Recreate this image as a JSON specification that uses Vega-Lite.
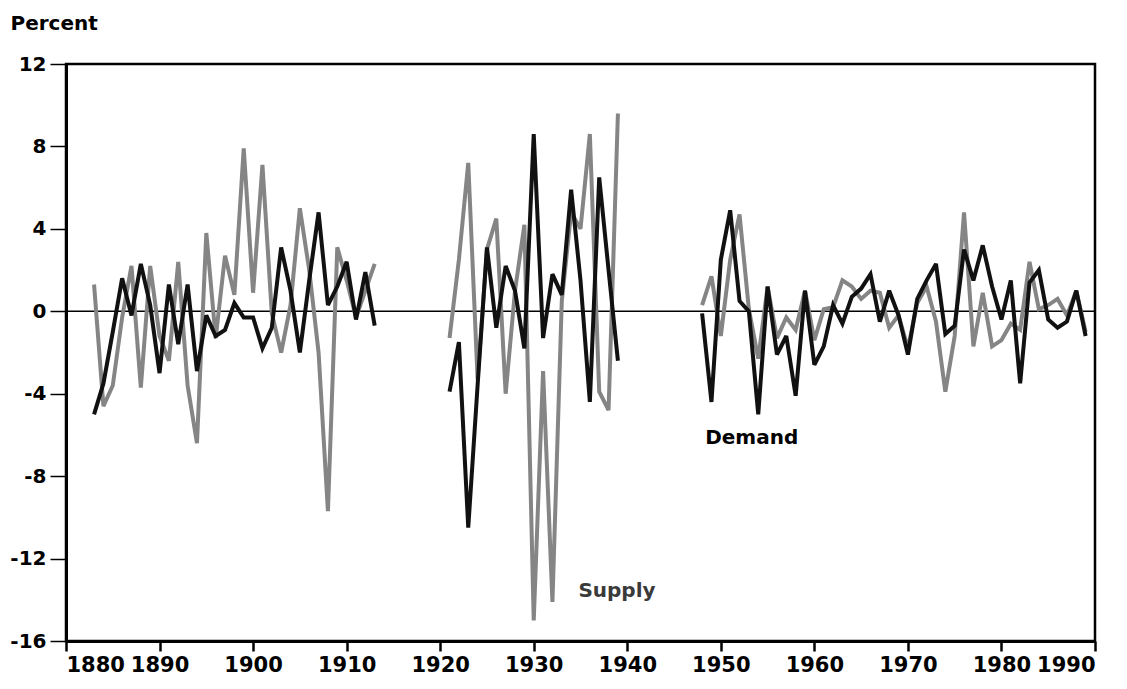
{
  "$schema": "https://vega.github.io/schema/vega-lite/v6.json",
  "autosize": "none",
  "width": 1029,
  "height": 577,
  "padding": {"left": 66, "top": 64, "right": 32, "bottom": 48},
  "background": "white",
  "view": {"stroke": "black", "strokeWidth": 2.5},
  "config": {
    "font": "DejaVu Sans",
    "axis": {"labelFont": "DejaVu Sans", "labelFontWeight": "bold", "labelColor": "black", "domainColor": "black", "tickColor": "black", "grid": false}
  },
  "datasets": {
    "series": [
      {"year": 1883, "period": "A", "Supply": 1.3, "Demand": -5.0},
      {"year": 1884, "period": "A", "Supply": -4.6, "Demand": -3.5},
      {"year": 1885, "period": "A", "Supply": -3.6, "Demand": -1.0},
      {"year": 1886, "period": "A", "Supply": -0.3, "Demand": 1.6},
      {"year": 1887, "period": "A", "Supply": 2.2, "Demand": -0.2},
      {"year": 1888, "period": "A", "Supply": -3.7, "Demand": 2.3},
      {"year": 1889, "period": "A", "Supply": 2.2, "Demand": 0.3},
      {"year": 1890, "period": "A", "Supply": -1.2, "Demand": -3.0},
      {"year": 1891, "period": "A", "Supply": -2.4, "Demand": 1.3},
      {"year": 1892, "period": "A", "Supply": 2.4, "Demand": -1.6},
      {"year": 1893, "period": "A", "Supply": -3.6, "Demand": 1.3},
      {"year": 1894, "period": "A", "Supply": -6.4, "Demand": -2.9},
      {"year": 1895, "period": "A", "Supply": 3.8, "Demand": -0.2},
      {"year": 1896, "period": "A", "Supply": -1.3, "Demand": -1.2},
      {"year": 1897, "period": "A", "Supply": 2.7, "Demand": -0.9},
      {"year": 1898, "period": "A", "Supply": 0.8, "Demand": 0.4},
      {"year": 1899, "period": "A", "Supply": 7.9, "Demand": -0.3},
      {"year": 1900, "period": "A", "Supply": 0.9, "Demand": -0.3},
      {"year": 1901, "period": "A", "Supply": 7.1, "Demand": -1.8},
      {"year": 1902, "period": "A", "Supply": -0.1, "Demand": -0.8},
      {"year": 1903, "period": "A", "Supply": -2.0, "Demand": 3.1},
      {"year": 1904, "period": "A", "Supply": 0.3, "Demand": 1.0},
      {"year": 1905, "period": "A", "Supply": 5.0, "Demand": -2.0},
      {"year": 1906, "period": "A", "Supply": 2.0, "Demand": 1.5},
      {"year": 1907, "period": "A", "Supply": -2.0, "Demand": 4.8},
      {"year": 1908, "period": "A", "Supply": -9.7, "Demand": 0.3},
      {"year": 1909, "period": "A", "Supply": 3.1, "Demand": 1.2},
      {"year": 1910, "period": "A", "Supply": 1.5, "Demand": 2.4},
      {"year": 1911, "period": "A", "Supply": -0.3, "Demand": -0.4},
      {"year": 1912, "period": "A", "Supply": 1.0, "Demand": 1.9},
      {"year": 1913, "period": "A", "Supply": 2.3, "Demand": -0.7},
      {"year": 1921, "period": "B", "Supply": -1.3, "Demand": -3.9},
      {"year": 1922, "period": "B", "Supply": 2.5, "Demand": -1.5},
      {"year": 1923, "period": "B", "Supply": 7.2, "Demand": -10.5},
      {"year": 1924, "period": "B", "Supply": -3.3, "Demand": -3.6},
      {"year": 1925, "period": "B", "Supply": 3.0, "Demand": 3.1},
      {"year": 1926, "period": "B", "Supply": 4.5, "Demand": -0.8},
      {"year": 1927, "period": "B", "Supply": -4.0, "Demand": 2.2},
      {"year": 1928, "period": "B", "Supply": 1.0, "Demand": 1.0},
      {"year": 1929, "period": "B", "Supply": 4.2, "Demand": -1.8},
      {"year": 1930, "period": "B", "Supply": -15.0, "Demand": 8.6},
      {"year": 1931, "period": "B", "Supply": -2.9, "Demand": -1.3},
      {"year": 1932, "period": "B", "Supply": -14.1, "Demand": 1.8},
      {"year": 1933, "period": "B", "Supply": 0.5, "Demand": 0.8},
      {"year": 1934, "period": "B", "Supply": 4.8, "Demand": 5.9},
      {"year": 1935, "period": "B", "Supply": 4.0, "Demand": 1.5},
      {"year": 1936, "period": "B", "Supply": 8.6, "Demand": -4.4},
      {"year": 1937, "period": "B", "Supply": -3.9, "Demand": 6.5},
      {"year": 1938, "period": "B", "Supply": -4.8, "Demand": 2.0},
      {"year": 1939, "period": "B", "Supply": 9.6, "Demand": -2.4},
      {"year": 1948, "period": "C", "Supply": 0.3, "Demand": -0.1},
      {"year": 1949, "period": "C", "Supply": 1.7, "Demand": -4.4},
      {"year": 1950, "period": "C", "Supply": -1.2, "Demand": 2.5},
      {"year": 1951, "period": "C", "Supply": 2.5, "Demand": 4.9},
      {"year": 1952, "period": "C", "Supply": 4.7, "Demand": 0.5},
      {"year": 1953, "period": "C", "Supply": 0.1, "Demand": 0.0},
      {"year": 1954, "period": "C", "Supply": -2.3, "Demand": -5.0},
      {"year": 1955, "period": "C", "Supply": 1.2, "Demand": 1.2},
      {"year": 1956, "period": "C", "Supply": -1.3, "Demand": -2.1},
      {"year": 1957, "period": "C", "Supply": -0.3, "Demand": -1.2},
      {"year": 1958, "period": "C", "Supply": -0.9, "Demand": -4.1},
      {"year": 1959, "period": "C", "Supply": 1.0, "Demand": 1.0},
      {"year": 1960, "period": "C", "Supply": -1.4, "Demand": -2.6},
      {"year": 1961, "period": "C", "Supply": 0.1, "Demand": -1.7},
      {"year": 1962, "period": "C", "Supply": 0.2, "Demand": 0.3},
      {"year": 1963, "period": "C", "Supply": 1.5, "Demand": -0.6},
      {"year": 1964, "period": "C", "Supply": 1.2, "Demand": 0.7},
      {"year": 1965, "period": "C", "Supply": 0.6, "Demand": 1.1},
      {"year": 1966, "period": "C", "Supply": 1.0, "Demand": 1.8},
      {"year": 1967, "period": "C", "Supply": 0.9, "Demand": -0.5},
      {"year": 1968, "period": "C", "Supply": -0.8, "Demand": 1.0},
      {"year": 1969, "period": "C", "Supply": -0.2, "Demand": -0.2},
      {"year": 1970, "period": "C", "Supply": -1.8, "Demand": -2.1},
      {"year": 1971, "period": "C", "Supply": 0.4, "Demand": 0.6},
      {"year": 1972, "period": "C", "Supply": 1.2, "Demand": 1.5},
      {"year": 1973, "period": "C", "Supply": -0.5, "Demand": 2.3},
      {"year": 1974, "period": "C", "Supply": -3.9, "Demand": -1.1},
      {"year": 1975, "period": "C", "Supply": -1.2, "Demand": -0.7},
      {"year": 1976, "period": "C", "Supply": 4.8, "Demand": 3.0},
      {"year": 1977, "period": "C", "Supply": -1.7, "Demand": 1.5},
      {"year": 1978, "period": "C", "Supply": 0.9, "Demand": 3.2},
      {"year": 1979, "period": "C", "Supply": -1.7, "Demand": 1.2},
      {"year": 1980, "period": "C", "Supply": -1.4, "Demand": -0.4},
      {"year": 1981, "period": "C", "Supply": -0.6, "Demand": 1.5},
      {"year": 1982, "period": "C", "Supply": -0.9, "Demand": -3.5},
      {"year": 1983, "period": "C", "Supply": 2.4, "Demand": 1.4},
      {"year": 1984, "period": "C", "Supply": 0.1, "Demand": 2.0},
      {"year": 1985, "period": "C", "Supply": 0.3, "Demand": -0.4},
      {"year": 1986, "period": "C", "Supply": 0.6, "Demand": -0.8},
      {"year": 1987, "period": "C", "Supply": -0.2, "Demand": -0.5},
      {"year": 1988, "period": "C", "Supply": 1.0, "Demand": 1.0},
      {"year": 1989, "period": "C", "Supply": -1.0, "Demand": -1.2}
    ],
    "labels": [
      {"year": 1938.9, "value": -13.55, "label": "Supply"},
      {"year": 1953.3, "value": -6.15, "label": "Demand"}
    ],
    "zero": [{"value": 0}]
  },
  "layer": [
    {
      "data": {"name": "zero"},
      "mark": {"type": "rule", "color": "black", "strokeWidth": 1.5},
      "encoding": {"y": {"field": "value", "type": "quantitative", "scale": {"domain": [-16, 12]}}}
    },
    {
      "data": {"name": "series"},
      "mark": {"type": "line", "color": "#858585", "strokeWidth": 4, "strokeJoin": "miter", "strokeMiterLimit": 3},
      "encoding": {
        "x": {"field": "year", "type": "quantitative",
          "scale": {"domain": [1880, 1990], "nice": false, "zero": false},
          "axis": {"values": [1880, 1890, 1900, 1910, 1920, 1930, 1940, 1950, 1960, 1970, 1980, 1990], "format": "d", "title": null, "labelFontSize": 21, "labelPadding": 3, "tickSize": 10, "tickWidth": 2.5, "domainWidth": 3}},
        "y": {"field": "Supply", "type": "quantitative",
          "scale": {"domain": [-16, 12], "nice": false},
          "axis": {"values": [-16, -12, -8, -4, 0, 4, 8, 12], "labelExpr": "datum.value < 0 ? '-' + abs(datum.value) : '' + datum.value", "labelFontSize": 20, "labelPadding": 4, "tickSize": 16, "tickWidth": 1.5, "domainWidth": 3,
            "title": "Percent", "titleAngle": 0, "titleAlign": "left", "titleBaseline": "alphabetic", "titleX": -56, "titleY": -35, "titleFont": "DejaVu Sans", "titleFontSize": 20, "titleFontWeight": "bold", "titleColor": "black"}},
        "detail": {"field": "period", "type": "nominal"}
      }
    },
    {
      "data": {"name": "series"},
      "mark": {"type": "line", "color": "#111111", "strokeWidth": 4, "strokeJoin": "miter", "strokeMiterLimit": 3},
      "encoding": {
        "x": {"field": "year", "type": "quantitative"},
        "y": {"field": "Demand", "type": "quantitative"},
        "detail": {"field": "period", "type": "nominal"}
      }
    },
    {
      "data": {"name": "labels"},
      "mark": {"type": "text", "font": "DejaVu Sans", "fontSize": 20, "fontWeight": "bold", "align": "center", "baseline": "middle"},
      "encoding": {
        "x": {"field": "year", "type": "quantitative"},
        "y": {"field": "value", "type": "quantitative"},
        "text": {"field": "label"},
        "color": {"field": "label", "type": "nominal", "scale": {"domain": ["Supply", "Demand"], "range": ["#3a3a3a", "#000000"]}, "legend": null}
      }
    }
  ]
}
